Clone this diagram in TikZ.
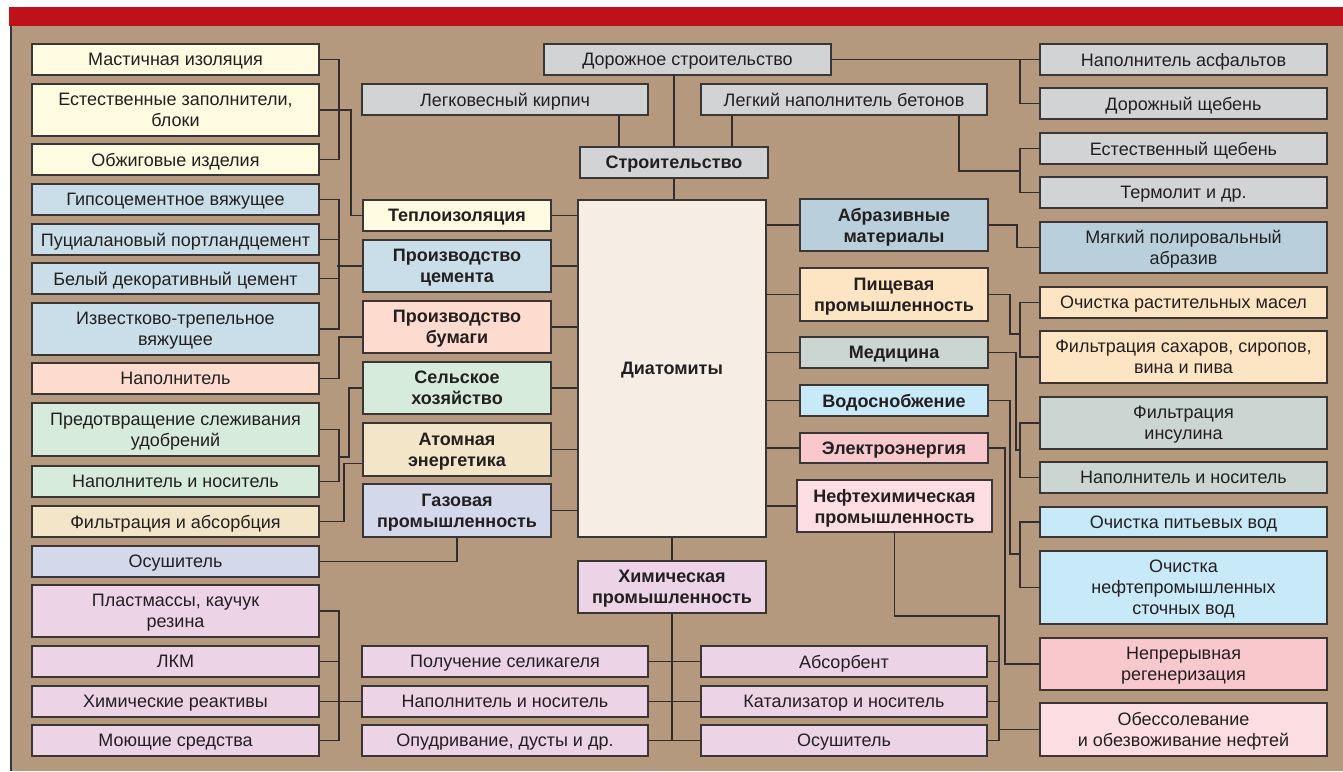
\documentclass[tikz,border=0pt]{standalone}
\usepackage{fontspec}
\setmainfont{Liberation Sans}
\usetikzlibrary{calc}
\definecolor{bg}{HTML}{B5997F}
\definecolor{topred}{HTML}{BE111A}
\definecolor{edge}{HTML}{3A3635}
\definecolor{lnc}{HTML}{332E2C}
\definecolor{txt}{HTML}{231F20}
\definecolor{cY}{HTML}{FEFBE0}
\definecolor{cCem}{HTML}{C9DEE8}
\definecolor{cBum}{HTML}{FDDCCF}
\definecolor{cSel}{HTML}{D6EBDC}
\definecolor{cAtom}{HTML}{F3E5C8}
\definecolor{cGaz}{HTML}{D3D8EB}
\definecolor{cChem}{HTML}{ECD3E5}
\definecolor{cGr}{HTML}{D2D3D5}
\definecolor{cAbr}{HTML}{B9D0DC}
\definecolor{cPish}{HTML}{FDE5C3}
\definecolor{cMed}{HTML}{CBD5D1}
\definecolor{cVod}{HTML}{C8E9F8}
\definecolor{cEl}{HTML}{F8C8CC}
\definecolor{cNeft}{HTML}{FCDDE2}
\definecolor{cD}{HTML}{F6EEE5}
\newcommand\BX[7]{\node[#1, minimum width={#5-#3}, minimum height={#6-#4}] (#2) at ({(#3+#5)/2},{(#4+#6)/2}) {#7};}
\begin{document}
\begin{tikzpicture}[x=1pt,y=-1pt,
  box/.style={draw=edge, line width=1.6pt, inner sep=0pt, align=center, text=txt, text depth=0pt, font=\fontsize{18}{21}\selectfont},
  cat/.style={box, font=\fontsize{18}{21}\selectfont\bfseries},
  ln/.style={draw=lnc, line width=1.5pt}]
\useasboundingbox (0,0) rectangle (1343,771);
\fill[white] (0,0) rectangle (1343,771);
\fill[topred] (9,7) rectangle (1343,26);
\fill[bg] (10,26) rectangle (1343,771);
\draw[edge, line width=1.5pt] (10.75,26) -- (10.75,771);

% left outer column
\BX{box, fill=cY}{mast}{32}{44}{319}{75}{Мастичная изоляция}
\BX{box, fill=cY}{estz}{32}{84}{319}{136}{Естественные заполнители,\\блоки}
\BX{box, fill=cY}{obzh}{32}{144}{319}{175}{Обжиговые изделия}
\BX{box, fill=cCem}{gips}{32}{184}{319}{215}{Гипсоцементное вяжущее}
\BX{box, fill=cCem}{puc}{32}{224}{319}{255}{Пуциалановый портландцемент}
\BX{box, fill=cCem}{bel}{32}{263}{319}{294}{Белый декоративный цемент}
\BX{box, fill=cCem}{izv}{32}{303}{319}{355}{Известково-трепельное\\вяжущее}
\BX{box, fill=cBum}{napb}{32}{363}{319}{394}{Наполнитель}
\BX{box, fill=cSel}{pred}{32}{403}{319}{456}{Предотвращение слеживания\\удобрений}
\BX{box, fill=cSel}{napn}{32}{466}{319}{497}{Наполнитель и носитель}
\BX{box, fill=cAtom}{filt}{32}{506}{319}{537}{Фильтрация и абсорбция}
\BX{box, fill=cGaz}{osush}{32}{546}{319}{577}{Осушитель}
\BX{box, fill=cChem}{plast}{32}{585}{319}{637}{Пластмассы, каучук\\резина}
\BX{box, fill=cChem}{lkm}{32}{646}{319}{677}{ЛКМ}
\BX{box, fill=cChem}{khimr}{32}{686}{319}{717}{Химические реактивы}
\BX{box, fill=cChem}{moyu}{32}{725}{319}{756}{Моющие средства}

% left category column
\BX{cat, fill=cY}{tepl}{363}{200}{551}{231}{Теплоизоляция}
\BX{cat, fill=cCem}{cem}{363}{240}{551}{292}{Производство\\цемента}
\BX{cat, fill=cBum}{bum}{363}{301}{551}{353}{Производство\\бумаги}
\BX{cat, fill=cSel}{sel}{363}{362}{551}{414}{Сельское\\хозяйство}
\BX{cat, fill=cAtom}{atom}{363}{423}{551}{476}{Атомная\\энергетика}
\BX{cat, fill=cGaz}{gaz}{363}{484}{551}{537}{Газовая\\промышленность}

% centre
\BX{cat, fill=cD}{D}{578}{200}{766}{537}{Диатомиты}
\BX{cat, fill=cGr}{str}{580}{147}{768}{178}{Строительство}
\BX{box, fill=cGr}{dor}{544}{44}{831}{75}{Дорожное строительство}
\BX{box, fill=cGr}{lkir}{362}{84}{648}{115}{Легковесный кирпич}
\BX{box, fill=cGr}{lbet}{701}{84}{987}{115}{Легкий наполнитель бетонов}
\BX{cat, fill=cChem}{khim}{578}{561}{766}{613}{Химическая\\промышленность}
\BX{box, fill=cChem}{selg}{362}{646}{648}{677}{Получение селикагеля}
\BX{box, fill=cChem}{napc}{362}{686}{648}{717}{Наполнитель и носитель}
\BX{box, fill=cChem}{opud}{362}{725}{648}{756}{Опудривание, дусты и др.}
\BX{box, fill=cChem}{abs}{701}{646}{987}{677}{Абсорбент}
\BX{box, fill=cChem}{kat}{701}{686}{987}{717}{Катализатор и носитель}
\BX{box, fill=cChem}{osc}{701}{725}{987}{756}{Осушитель}

% right category column
\BX{cat, fill=cAbr}{abr}{800}{199}{988}{251}{Абразивные\\материалы}
\BX{cat, fill=cPish}{pish}{800}{268}{988}{321}{Пищевая\\промышленность}
\BX{cat, fill=cMed}{med}{800}{337}{988}{368}{Медицина}
\BX{cat, fill=cVod}{vod}{800}{385}{988}{416}{Водоснобжение}
\BX{cat, fill=cEl}{elek}{800}{433}{988}{463}{Электроэнергия}
\BX{cat, fill=cNeft}{neft}{797}{480}{992}{532}{Нефтехимическая\\промышленность}

% right outer column
\BX{box, fill=cGr}{asf}{1040}{44}{1327}{75}{Наполнитель асфальтов}
\BX{box, fill=cGr}{dorsh}{1040}{88}{1327}{119}{Дорожный щебень}
\BX{box, fill=cGr}{estsh}{1040}{133}{1327}{164}{Естественный щебень}
\BX{box, fill=cGr}{term}{1040}{177}{1327}{208}{Термолит и др.}
\BX{box, fill=cAbr}{myag}{1040}{222}{1327}{273}{Мягкий полировальный\\абразив}
\BX{box, fill=cPish}{ochm}{1040}{287}{1327}{318}{Очистка растительных масел}
\BX{box, fill=cPish}{fsah}{1040}{331}{1327}{383}{Фильтрация сахаров, сиропов,\\вина и пива}
\BX{box, fill=cMed}{fins}{1040}{397}{1327}{449}{Фильтрация\\инсулина}
\BX{box, fill=cMed}{napr}{1040}{462}{1327}{493}{Наполнитель и носитель}
\BX{box, fill=cVod}{pit}{1040}{507}{1327}{537}{Очистка питьевых вод}
\BX{box, fill=cVod}{nvod}{1040}{551}{1327}{624}{Очистка\\нефтепромышленных\\сточных вод}
\BX{box, fill=cEl}{nepr}{1040}{638}{1327}{690}{Непрерывная\\регенеризация}
\BX{box, fill=cNeft}{obes}{1040}{703}{1327}{756}{Обессолевание\\и обезвоживание нефтей}

% junction coordinates
\coordinate (jbet) at (1021,171);
\coordinate (jsel) at (338,457);
\coordinate (jpish) at (1021,334);
\coordinate (jmed) at (1021,450);
\coordinate (jvod) at (1021,554);
\coordinate (jneft) at (999,616);

% top connectors
\draw[ln] (lkir.south -| 619,0) -- (str.north -| 619,0);
\draw[ln] (dor.south -| str.north) -- (str.north);
\draw[ln] (lbet.south -| 732,0) -- (str.north -| 732,0);
\draw[ln] (str.south) -- (str.south |- D.north);
\draw[ln] (dor.east) -- (asf.west);
\draw[ln] (asf.west) ++(-19,0) |- (dorsh.west);
\draw[ln] (lbet.south -| 959,0) |- (jbet);
\draw[ln] (estsh.west) -- ++(-19,0) |- (term.west);

% left connectors
\draw[ln] (mast.east) -- ++(19,0) |- (obzh.east);
\draw[ln] (estz.east) -- ++(31,0) |- (tepl.west);
\draw[ln] (gips.east) -- ++(19,0) |- (izv.east);
\draw[ln] (puc.east) -- ++(19,0);
\draw[ln] (bel.east) -- ++(19,0);
\draw[ln] (cem.west) -- ++(-25,0);
\draw[ln] (napb.east) -- ++(19,0) |- ($(bum.west)+(0,10)$);
\draw[ln] (pred.east) -- ++(19,0) |- (napn.east);
\draw[ln] (sel.west) -- ++(-13,0) |- (jsel);
\draw[ln] ($(atom.west)+(0,14)$) -- ++(-18,0) |- (filt.east);
\draw[ln] (gaz.south) |- (osush.east);
\draw[ln] (plast.east) -- ++(19,0) |- (moyu.east);
\draw[ln] (lkm.east) -- ++(19,0);
\draw[ln] (khimr.east) -- (napc.west);

% centre connectors
\foreach \n in {tepl,cem,bum,sel,atom,gaz} {\draw[ln] (\n.east) -- (\n.east -| D.west);}
\foreach \n in {abr,pish,med,vod,elek,neft} {\draw[ln] (\n.west) -- (\n.west -| D.east);}
\draw[ln] (D.south) -- (khim.north);
\draw[ln] (khim.south) -- (khim.south |- opud.east);
\draw[ln] (selg.east) -- (abs.west);
\draw[ln] (napc.east) -- (kat.west);
\draw[ln] (opud.east) -- (osc.west);

% right connectors
\draw[ln] (abr.east) -- ++(28,0) |- (myag.west);
\draw[ln] (ochm.west) -- ++(-19,0) |- (fsah.west);
\draw[ln] (pish.east) -- ++(21,0) |- (jpish);
\draw[ln] (fins.west) -- ++(-19,0) |- (napr.west);
\draw[ln] (med.east) -- ++(27,0) |- (jmed);
\draw[ln] (pit.west) -- ++(-19,0) |- (nvod.west);
\draw[ln] (vod.east) -- ++(21,0) |- (jvod);
\draw[ln] (elek.east) -- ++(16,0) |- (nepr.west);
\draw[ln] (neft.south) |- (jneft) |- (osc.east);
\draw[ln] (abs.east) -- ++(12,0);
\draw[ln] (kat.east) -- ++(12,0);
\draw[ln] (obes.west) -- ++(-41,0);
\end{tikzpicture}
\end{document}
